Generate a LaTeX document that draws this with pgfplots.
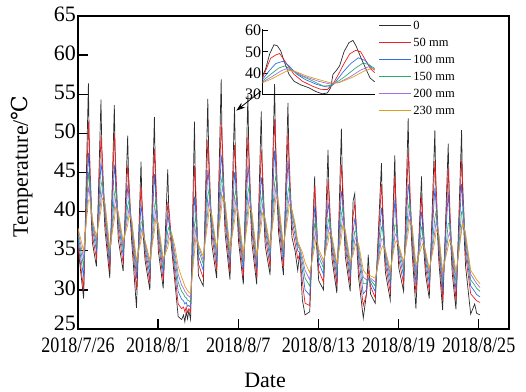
\documentclass[border=0pt]{standalone}
\usepackage{pgfplots}
\usepackage{pgfplotstable}
\pgfplotsset{compat=1.18}
\usetikzlibrary{arrows.meta}
\usepackage{fontspec}
\setmainfont{Liberation Serif}
\newfontfamily\condfont{Liberation Serif}[FakeStretch=0.82]
\newfontfamily\dejavu{DejaVu Serif}
\definecolor{c0}{RGB}{45,45,45}
\definecolor{c50}{RGB}{235,30,35}
\definecolor{c100}{RGB}{50,110,230}
\definecolor{c150}{RGB}{50,170,110}
\definecolor{c200}{RGB}{165,110,225}
\definecolor{c230}{RGB}{220,160,30}

\pgfplotstableread{
t s0 s50 s100 s150 s200 s230
0.00 35.5 36.0 36.5 37.0 37.5 37.9
0.42 28.9 30.0 31.7 33.0 34.0 35.0
0.78 56.4 51.5 47.5 45.0 43.0 41.5
0.88 43.5 47.0 45.0 43.5 42.3 41.5
1.08 36.0 37.0 37.8 38.3 38.6 39.0
1.38 33.0 34.0 35.0 35.8 36.3 36.8
1.72 54.3 49.6 46.2 43.2 41.5 40.2
1.82 44.7 47.1 44.9 44.1 42.8 41.7
2.02 37.7 39.0 39.8 40.5 40.9 41.1
2.38 31.5 32.5 33.5 34.3 34.8 35.3
2.72 53.6 50.0 46.0 42.1 40.3 39.0
2.82 43.7 46.1 43.9 43.0 41.7 40.6
3.02 36.4 37.7 38.6 39.2 39.7 39.9
3.38 32.4 33.4 34.4 35.2 35.7 36.2
3.72 49.7 45.9 43.1 40.7 39.3 38.3
3.82 41.9 43.8 42.1 41.4 40.4 39.5
4.02 36.2 37.2 37.9 38.5 38.8 39.0
4.38 27.7 30.0 31.5 32.5 33.2 33.8
4.72 46.4 43.3 40.8 38.5 37.3 36.3
4.82 38.5 40.6 39.5 38.8 38.0 37.3
5.02 33.8 34.7 35.3 35.8 36.1 36.3
5.38 30.0 31.0 32.0 32.8 33.3 33.8
5.72 52.1 48.0 44.8 40.6 38.8 37.5
5.82 42.2 44.6 42.4 41.5 40.2 39.1
6.02 34.9 36.2 37.1 37.7 38.2 38.4
6.38 30.2 31.2 32.2 33.0 33.5 34.0
6.72 45.4 41.0 39.6 37.5 36.3 35.4
6.82 38.6 40.2 38.7 38.1 37.2 36.4
7.02 35.1 36.0 36.6 37.0 37.0 37.2
7.26 30.9 32.0 33.0 34.0 34.7 35.5
7.50 26.6 28.2 29.8 31.0 32.0 33.0
7.76 26.2 27.6 28.8 29.8 30.6 31.6
7.90 26.8 27.8 28.6 29.5 30.2 31.0
8.00 25.9 27.2 28.2 29.1 29.8 30.5
8.10 27.2 27.8 28.4 29.0 29.6 30.2
8.20 26.3 27.1 27.9 28.7 29.3 29.9
8.30 27.3 27.6 28.0 28.6 29.2 29.7
8.43 26.2 27.2 27.8 28.4 29.0 29.5
8.72 51.5 45.9 41.9 38.3 36.3 34.8
8.82 40.1 42.9 40.4 39.4 37.8 36.6
9.02 31.8 33.3 34.3 35.1 35.6 35.8
9.38 30.5 31.5 32.5 33.3 33.8 34.3
9.72 54.4 49.1 45.3 42.0 40.1 38.6
9.82 43.6 46.3 43.9 42.9 41.5 40.3
10.02 35.8 37.2 38.1 38.9 39.3 39.6
10.38 31.5 32.5 33.5 34.3 34.8 35.3
10.72 56.9 51.3 47.2 43.7 41.7 40.1
10.82 45.5 48.3 45.7 44.7 43.2 41.9
11.02 37.1 38.6 39.6 40.4 40.9 41.2
11.38 31.3 32.3 33.3 34.1 34.6 35.1
11.72 53.4 48.5 45.0 41.9 40.1 38.8
11.82 43.5 45.9 43.7 42.8 41.5 40.4
12.02 36.2 37.5 38.4 39.0 39.5 39.7
12.38 30.7 31.7 32.7 33.5 34.0 34.5
12.72 55.0 49.7 45.8 42.4 40.4 39.0
12.82 44.1 46.7 44.3 43.3 41.9 40.7
13.02 36.0 37.5 38.5 39.2 39.7 39.9
13.38 30.7 31.7 32.7 33.5 34.0 34.5
13.72 52.8 47.9 44.4 41.3 39.5 38.2
13.82 42.9 45.3 43.1 42.2 40.9 39.8
14.02 35.6 36.9 37.8 38.4 38.9 39.1
14.38 31.9 32.9 33.9 34.7 35.2 35.7
14.72 56.3 51.8 47.8 43.6 41.7 40.2
14.82 45.3 48.0 45.6 44.6 43.1 41.9
15.02 37.3 38.7 39.7 40.4 40.9 41.2
15.38 31.9 32.9 33.9 34.7 35.2 35.7
15.72 53.9 50.0 46.5 42.5 40.7 39.4
15.82 44.0 46.4 44.2 43.3 42.0 40.9
16.02 36.7 38.1 38.9 39.6 40.0 40.3
16.25 35.0 36.0 37.0 37.8 38.2 38.5
16.45 32.5 34.0 35.0 35.6 35.9 36.2
16.60 34.8 34.5 34.8 35.2 35.4 35.6
16.80 28.7 31.0 32.5 33.5 34.2 34.8
17.00 26.8 28.3 30.0 31.5 32.5 33.5
17.35 27.2 28.0 29.3 30.5 31.3 32.2
17.72 44.5 43.3 40.5 38.5 36.8 35.5
17.82 37.0 40.5 39.5 38.6 37.5 36.5
18.02 31.2 32.5 33.5 34.2 34.8 35.2
18.38 30.0 31.0 32.0 32.8 33.3 33.8
18.72 47.9 44.0 41.1 38.6 37.2 36.1
18.82 39.8 41.8 40.0 39.3 38.2 37.3
19.02 33.9 35.0 35.7 36.3 36.6 36.8
19.38 29.6 30.6 31.6 32.4 32.9 33.4
19.72 50.6 46.0 42.6 39.7 38.0 36.7
19.82 41.2 43.5 41.4 40.5 39.3 38.2
20.02 34.2 35.5 36.3 37.0 37.4 37.6
20.38 29.8 30.8 31.8 32.6 33.1 33.6
20.60 41.4 39.5 37.5 36.0 35.0 34.5
20.72 42.3 41.0 39.0 37.5 36.3 35.4
20.82 37.5 38.8 38.3 37.5 36.8 36.0
21.00 31.7 33.0 34.3 35.0 35.5 36.0
21.36 26.4 28.0 29.5 30.8 31.6 32.5
21.60 29.5 29.5 30.0 30.8 31.3 32.0
21.73 34.5 32.5 31.5 31.3 31.5 32.0
21.90 29.5 30.5 31.0 31.3 31.5 31.8
22.25 28.3 29.0 29.8 30.5 31.0 31.5
22.72 46.2 43.5 40.5 38.0 36.5 35.3
22.82 38.1 40.6 39.0 37.6 36.5 35.6
23.02 32.2 33.3 34.0 34.6 34.9 35.1
23.38 28.7 29.7 30.7 31.5 32.0 32.5
23.72 47.2 44.5 41.5 38.3 36.9 35.8
23.82 38.9 41.0 39.5 38.3 37.2 36.3
24.02 32.8 33.9 34.6 35.2 35.5 35.7
24.38 29.8 30.8 31.8 32.6 33.1 33.6
24.72 51.9 47.5 43.5 40.4 38.6 37.3
24.82 42.0 44.4 42.2 41.3 40.0 38.9
25.02 34.7 36.0 36.9 37.5 38.0 38.2
25.30 27.6 29.5 30.8 31.8 32.5 33.2
25.72 44.5 42.0 40.0 38.0 36.6 35.5
25.82 36.9 39.2 38.6 37.6 36.7 35.9
26.02 32.0 33.0 33.8 34.4 34.8 35.0
26.30 28.9 29.9 30.9 31.7 32.2 32.7
26.72 50.4 46.5 43.0 39.2 37.5 36.2
26.82 40.7 43.1 40.9 40.1 38.8 37.7
27.02 33.6 34.9 35.8 36.4 36.9 37.1
27.30 27.4 28.7 30.0 31.0 31.7 32.4
27.72 48.7 45.5 42.5 38.5 36.8 35.6
27.82 39.1 41.5 39.5 38.5 37.3 36.4
28.02 32.1 33.4 34.2 34.9 35.3 35.6
28.30 27.5 28.7 29.9 30.9 31.6 32.3
28.72 50.4 46.5 43.5 40.0 38.0 37.5
28.82 40.1 43.0 41.5 40.0 39.0 38.5
29.02 33.0 34.5 35.5 36.3 36.8 37.2
29.40 26.9 29.5 30.5 31.3 32.0 32.5
29.70 28.2 28.9 29.8 30.6 31.2 31.7
29.85 27.0 28.6 29.4 30.2 30.8 31.3
30.10 26.8 28.4 29.1 29.8 30.3 30.8
}\maindata

\begin{document}
\begin{tikzpicture}
\path[use as bounding box] (0,0) rectangle (526bp,392bp);
\begin{axis}[
  at={(78bp,63bp)}, anchor=south west,
  scale only axis, width=431bp, height=313bp,
  xmin=0, xmax=32.27, ymin=25, ymax=65,
  xtick={0,6,12,18,24,30},
  xticklabels={2018/7/26,2018/8/1,2018/8/7,2018/8/13,2018/8/19,2018/8/25},
  ytick={30,35,...,65},
  extra y ticks={25},
  extra y tick style={yticklabel style={yshift=4bp}},
  xtick pos=bottom, ytick pos=left,
  tick align=inside, major tick length=10bp,
  axis line style={line width=1.3pt},
  every tick/.style={line width=1.3pt, black},
  /pgf/number format/assume math mode=true,
  yticklabel style={font=\fontsize{22bp}{26bp}\selectfont, inner sep=2bp, yshift=2bp},
  xticklabel style={font=\condfont\fontsize{22bp}{26bp}\selectfont, inner sep=2bp, yshift=-7bp},
  ylabel={Temperature/{\dejavu ℃}},
  ylabel style={font=\fontsize{22bp}{26bp}\selectfont, at={(axis description cs:-0.13,0.52)}, anchor=center},
  xlabel={Date},
  xlabel style={font=\fontsize{22bp}{26bp}\selectfont, at={(axis description cs:0.434,-0.186)}, anchor=base},
  every axis plot/.append style={line width=0.7pt},
  legend style={at={(rel axis cs:0.69,0.997)}, anchor=north west, draw=none, fill=none,
    font=\fontsize{12.5bp}{14bp}\selectfont, row sep=4bp, nodes={inner sep=1.6bp}},
  legend cell align=left,
  legend image code/.code={\draw[#1, line width=1.3pt] (0bp,0bp) -- (32bp,0bp);},
]
\addplot[c0] table[x=t, y=s0] {\maindata};
\addplot[c50] table[x=t, y=s50] {\maindata};
\addplot[c100] table[x=t, y=s100] {\maindata};
\addplot[c150] table[x=t, y=s150] {\maindata};
\addplot[c200] table[x=t, y=s200] {\maindata};
\addplot[c230] table[x=t, y=s230] {\maindata};
\legend{0, 50 mm, 100 mm, 150 mm, 200 mm, 230 mm}
\draw[line width=0.8pt, -{Stealth[length=9bp,width=6bp]}] (axis cs:13.7,55.4) -- (axis cs:11.85,52.9);
\end{axis}
\begin{axis}[
  at={(262.3bp,297.3bp)}, anchor=south west,
  scale only axis, width=112.7bp, height=65.4bp,
  xmin=0, xmax=338, ymin=30, ymax=60.5,
  axis x line=bottom, axis y line=left,
  axis line style={-, line width=1.3pt},
  xtick=\empty, ytick={30,40,50,60},
  tick align=inside, major tick length=6bp,
  every tick/.style={line width=1.3pt, black},
  /pgf/number format/assume math mode=true,
  yticklabel style={font=\fontsize{16bp}{18bp}\selectfont, inner sep=1bp},
  every axis plot/.append style={line width=0.7pt},
]
\addplot[c0] coordinates {(0,38.5) (10,42) (22,49) (35,53.3) (45,52.8) (55,50.5) (68,44.5) (80,39.5) (95,36.3) (115,34.6) (140,33.2) (160,31.5) (180,30.4) (195,30.8) (205,33.2) (212,39.5) (222,41.3) (232,43.5) (245,50) (260,54.3) (272,55.3) (282,52.5) (295,47.5) (310,42.3) (323,37.8) (337,36.0)};
\addplot[c50] coordinates {(0,37.5) (12,42) (25,47) (40,48.5) (52,49.2) (62,47) (75,44) (95,39.5) (120,36.3) (150,34) (175,32.5) (195,32.4) (210,34.5) (225,38.5) (245,44.5) (262,49) (280,50.7) (295,50) (310,46) (325,42) (337,40.3)};
\addplot[c100] coordinates {(0,37) (20,41) (40,44.5) (62,45.6) (80,43.5) (103,39.6) (130,37) (163,34.8) (190,33.7) (200,33.6) (215,35) (243,40.7) (265,44.5) (288,47.2) (308,46) (325,43) (337,41.4)};
\addplot[c150] coordinates {(0,36.3) (25,39.5) (50,42.5) (68,43.4) (90,41.5) (113,39.1) (150,36.5) (183,34) (203,34.3) (230,36.5) (253,39.1) (280,42.5) (303,44.8) (320,44) (337,42.2)};
\addplot[c200] coordinates {(0,35.8) (30,38.5) (55,41) (73,42.2) (95,41) (123,38.7) (170,36.2) (203,35) (230,35.7) (263,38.3) (295,41.5) (318,43) (337,41.9)};
\addplot[c230] coordinates {(0,35.5) (30,37.5) (60,40) (78,41.4) (100,40.8) (133,38.7) (170,37) (203,35.6) (230,35.6) (273,38.3) (305,41) (328,42.2) (337,41.9)};
\end{axis}
\end{tikzpicture}
\end{document}
